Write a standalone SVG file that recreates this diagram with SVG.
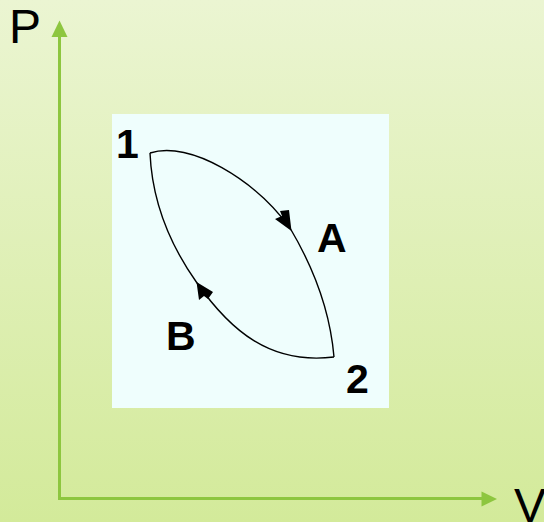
<svg xmlns="http://www.w3.org/2000/svg" width="544" height="522" viewBox="0 0 544 522">
<defs>
<linearGradient id="bg" x1="0" y1="0" x2="0" y2="1">
<stop offset="0" stop-color="#ebf5d2"/>
<stop offset="1" stop-color="#d3ea9a"/>
</linearGradient>
</defs>
<style>
.axis{stroke:#8dc63f;stroke-width:3;fill:none}
.axhead{fill:#8dc63f}
.curve{stroke:#000;stroke-width:1.4;fill:none}
.head{fill:#000}
.axlbl{font-family:"Liberation Sans",Arial,sans-serif;font-size:48px;fill:#000}
.lbl{font-family:"Liberation Sans",Arial,sans-serif;font-size:41px;font-weight:bold;fill:#000}
</style>
<rect x="0" y="0" width="544" height="522" fill="url(#bg)"/>
<g id="axes">
<line class="axis" x1="59.5" y1="36" x2="59.5" y2="499"/>
<line class="axis" x1="58" y1="498.5" x2="483" y2="498.5"/>
<polygon class="axhead" points="59.5,20.5 51.5,37 67.5,37"/>
<polygon class="axhead" points="497,499 481.5,491.5 481.5,506.5"/>
<text class="axlbl" x="9" y="43">P</text>
<text class="axlbl" x="514" y="522">V</text>
</g>
<rect id="panel" x="112" y="114" width="277" height="294" fill="#effefd"/>
<g id="connectors">
<path id="A" class="curve" d="M150,153 C190,140 255,180 290,228 C312,265 330,310 334,357"/>
<path id="B" class="curve" d="M150,153 C152,200 170,245 197,283 C230,330 270,365 334,357"/>
<polygon class="head" points="291.5,231 275,219 282,216 280,211 289,210"/>
<polygon class="head" points="196.5,282 199,300 204,296 208,299 213,292"/>
</g>
<g id="labels">
<text class="lbl" x="116" y="158">1</text>
<text class="lbl" x="317" y="252">A</text>
<text class="lbl" x="166" y="350">B</text>
<text class="lbl" x="346" y="393">2</text>
</g>
</svg>
